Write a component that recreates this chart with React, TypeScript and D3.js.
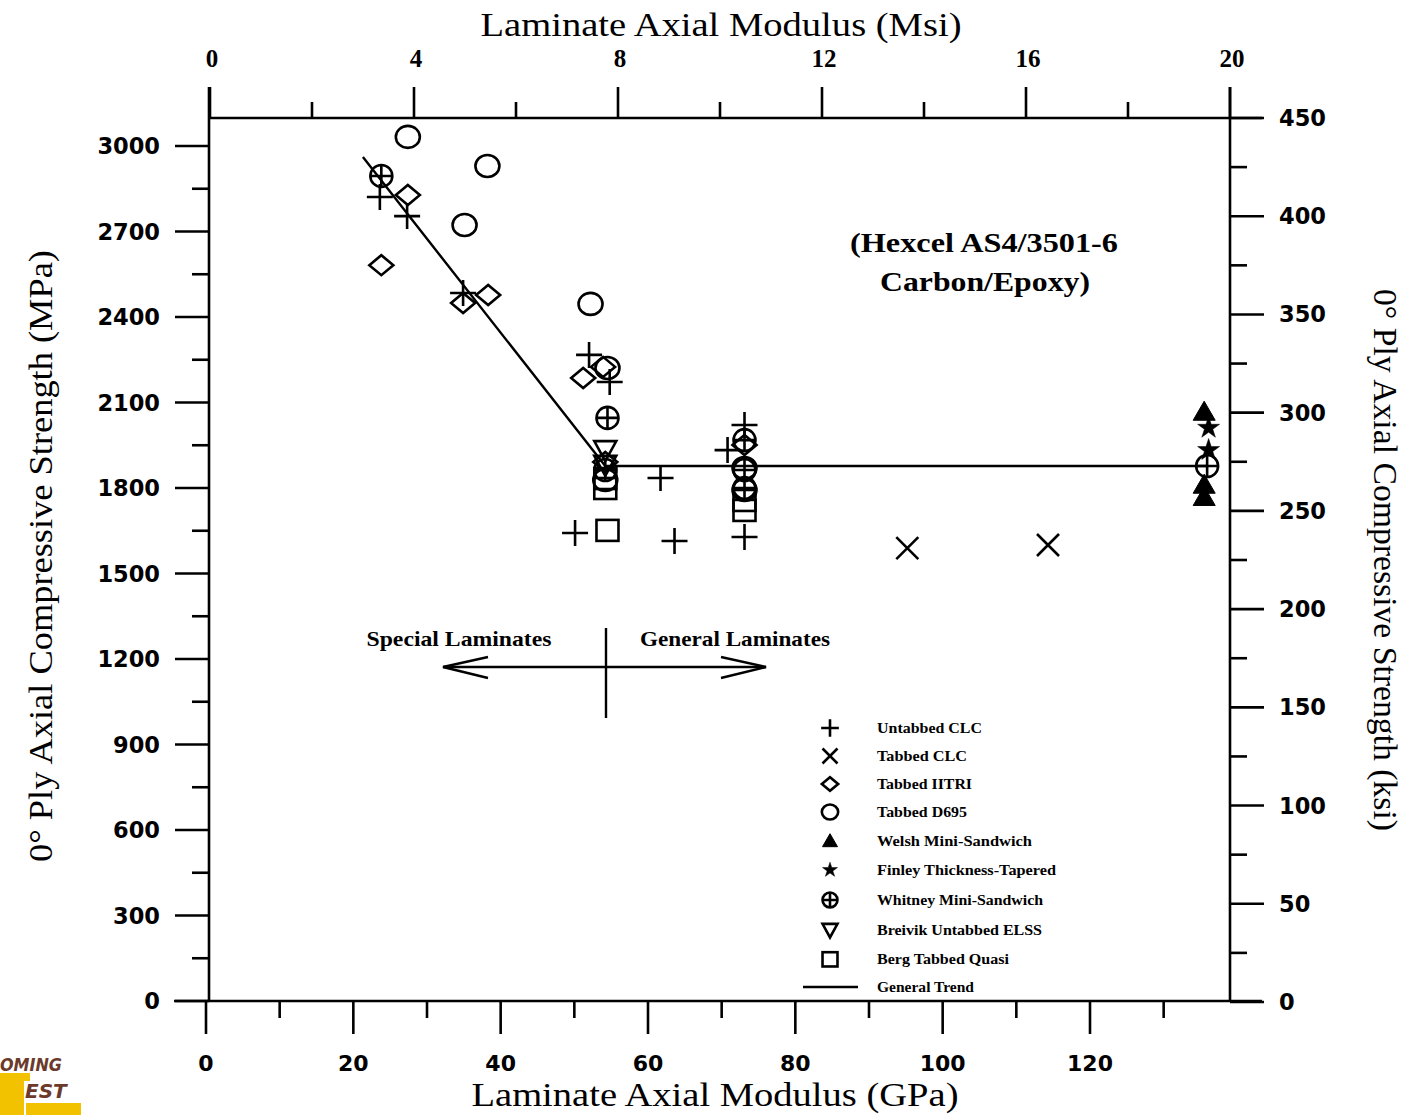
import React from 'react';
import * as d3 from 'd3';

const W = 1409, H = 1115;

// Tick values
const mpaTicks = [0, 300, 600, 900, 1200, 1500, 1800, 2100, 2400, 2700, 3000];
const mpaMinor = [150, 450, 750, 1050, 1350, 1650, 1950, 2250, 2550, 2850];
const ksiTicks = [0, 50, 100, 150, 200, 250, 300, 350, 400, 450];
const ksiMinor = [25, 75, 125, 175, 225, 275, 325, 375, 425];
const gpaTicks = [0, 20, 40, 60, 80, 100, 120];
const gpaMinor = [10, 30, 50, 70, 90, 110, 130];
const msiTicks = [0, 4, 8, 12, 16, 20];
const msiMinor = [2, 6, 10, 14, 18];

// Data: [modulus GPa, strength MPa]
const untabbedCLC: [number, number][] = [[23.6, 2821], [27.3, 2754], [34.9, 2484], [52.0, 2267], [54.8, 2172], [50.1, 1642], [61.7, 1835], [63.6, 1614], [73.1, 2021], [70.8, 1933], [73.1, 1628]];
const tabbedCLC: [number, number][] = [[95.2, 1589], [114.3, 1600]];
const tabbedIITRI: [number, number][] = [[23.8, 2582], [27.4, 2828], [34.9, 2449], [38.3, 2477], [51.2, 2186], [53.9, 2225], [54.2, 1891], [73.1, 1951]];
const tabbedD695: [number, number][] = [[27.4, 3032], [38.2, 2930], [35.1, 2723], [52.2, 2446], [54.5, 2221], [54.2, 1828], [73.1, 1870], [73.1, 1793]];
const welshMini: [number, number][] = [[135.5, 2067], [135.5, 1811], [135.5, 1768]];
const finleyTapered: [number, number][] = [[136.1, 2011], [136.1, 1933]];
const whitneyMini: [number, number][] = [[23.8, 2895], [54.5, 2046], [54.2, 1863], [73.1, 1968], [73.1, 1863], [73.1, 1800], [135.9, 1877]];
const breivikELSS: [number, number][] = [[54.2, 1933], [54.2, 1881]];
const bergQuasi: [number, number][] = [[54.5, 1653], [54.2, 1835], [54.2, 1800], [73.1, 1758], [73.1, 1723]];
const trendGPa = [21.3, 54.2, 136];
const trendMPa = [2961, 1877, 1877];

const legendLabels = ['Untabbed CLC', 'Tabbed CLC', 'Tabbed IITRI', 'Tabbed D695', 'Welsh Mini-Sandwich', 'Finley Thickness-Tapered', 'Whitney Mini-Sandwich', 'Breivik Untabbed ELSS', 'Berg Tabbed Quasi', 'General Trend'];

const x = d3.scaleLinear().domain([0, 120]).range([206, 1090]);
const xMsi = d3.scaleLinear().domain([0, 20]).range([210, 1230]);
const y = d3.scaleLinear().domain([0, 3000]).range([1001, 146]);
const yKsi = d3.scaleLinear().domain([0, 450]).range([1002, 118]);

const SW = 2.6;
const starPath = d3.symbol().type(d3.symbolStar).size(150)() as string;
const triPath = d3.symbol().type(d3.symbolTriangle).size(210)() as string;

function Marker({ kind, cx, cy, s = 1 }: { kind: string; cx: number; cy: number; s?: number }) {
  const t = `translate(${cx},${cy}) scale(${s})`;
  const common = { fill: 'none', stroke: '#000', strokeWidth: SW / s } as any;
  switch (kind) {
    case 'plus':
      return <path transform={t} d="M-13,0H13M0,-13V13" {...common} />;
    case 'cross':
      return <path transform={t} d="M-11,-11L11,11M-11,11L11,-11" {...common} />;
    case 'diamond':
      return <path transform={t} d="M-12,0L0,-10L12,0L0,10Z" {...common} />;
    case 'circle':
      return <ellipse transform={t} rx={12} ry={11} {...common} />;
    case 'tri':
      return <path transform={t + ' translate(0,2)'} d={triPath} fill="#000" stroke="#000" strokeWidth={1 / s} />;
    case 'star':
      return <path transform={t} d={starPath} fill="#000" stroke="#000" strokeWidth={0.5 / s} />;
    case 'oplus':
      return (
        <g transform={t}>
          <circle r={11} {...common} />
          <path d="M-11,0H11M0,-11V11" {...common} />
        </g>
      );
    case 'tridown':
      return <path transform={t} d="M-11,-9L11,-9L0,11Z" {...common} />;
    case 'square':
      return <rect transform={t} x={-11} y={-10} width={22} height={21} {...common} />;
    default:
      return null;
  }
}

const seriesList: { kind: string; data: [number, number][] }[] = [
  { kind: 'plus', data: untabbedCLC },
  { kind: 'cross', data: tabbedCLC },
  { kind: 'diamond', data: tabbedIITRI },
  { kind: 'circle', data: tabbedD695 },
  { kind: 'tri', data: welshMini },
  { kind: 'star', data: finleyTapered },
  { kind: 'oplus', data: whitneyMini },
  { kind: 'tridown', data: breivikELSS },
  { kind: 'square', data: bergQuasi },
];

export default function App() {
  const serif = 'Liberation Serif, Times New Roman, serif';
  const sans = 'DejaVu Sans, sans-serif';
  const trendLine = d3.line<number>().x((d) => x(d)).y((_, i) => y(trendMPa[i]))(trendGPa) as string;
  const legendY = [728, 756, 784, 812, 841, 870, 900, 930, 959, 987];
  const legendKinds = ['plus', 'cross', 'diamond', 'circle', 'tri', 'star', 'oplus', 'tridown', 'square'];
  const legendWidths = [105, 90, 95, 90, 155, 179, 166, 165, 132, 97];

  return (
    <svg width={W} height={H} style={{ position: 'absolute', left: 0, top: 0, background: '#fff' }}>
      <rect x={0} y={0} width={W} height={H} fill="#fff" />
      {/* Frame */}
      <g stroke="#000" strokeWidth={2.6} fill="none">
        <line x1={209} y1={118} x2={1262} y2={118} />
        <line x1={174} y1={1001} x2={1262} y2={1001} />
        <line x1={209} y1={87} x2={209} y2={1001} />
        <line x1={1230} y1={87} x2={1230} y2={1001} />
      </g>
      {/* Left MPa axis */}
      <g stroke="#000" strokeWidth={2.6}>
        {mpaTicks.map((v) => <line key={'lm' + v} x1={175} x2={209} y1={y(v)} y2={y(v)} />)}
        {mpaMinor.map((v) => <line key={'ln' + v} x1={192} x2={209} y1={y(v)} y2={y(v)} />)}
      </g>
      <g fontFamily={sans} fontWeight="bold" fontSize={22.5} textAnchor="end">
        {mpaTicks.map((v) => <text key={'lt' + v} x={160} y={y(v) + 8}>{v}</text>)}
      </g>
      {/* Right ksi axis */}
      <g stroke="#000" strokeWidth={2.6}>
        {ksiTicks.map((v) => <line key={'rm' + v} x1={1230} x2={1264} y1={yKsi(v)} y2={yKsi(v)} />)}
        {ksiMinor.map((v) => <line key={'rn' + v} x1={1230} x2={1247} y1={yKsi(v)} y2={yKsi(v)} />)}
      </g>
      <g fontFamily={sans} fontWeight="bold" fontSize={22.5} textAnchor="start">
        {ksiTicks.map((v) => <text key={'rt' + v} x={1279} y={yKsi(v) + 8}>{v}</text>)}
      </g>
      {/* Bottom GPa axis */}
      <g stroke="#000" strokeWidth={2.6}>
        {gpaTicks.map((v) => <line key={'bm' + v} x1={x(v)} x2={x(v)} y1={1001} y2={1034} />)}
        {gpaMinor.map((v) => <line key={'bn' + v} x1={x(v)} x2={x(v)} y1={1001} y2={1018} />)}
      </g>
      <g fontFamily={sans} fontWeight="bold" fontSize={22} textAnchor="middle">
        {gpaTicks.map((v) => <text key={'bt' + v} x={x(v)} y={1071}>{v}</text>)}
      </g>
      {/* Top Msi axis */}
      <g stroke="#000" strokeWidth={2.6}>
        {msiTicks.map((v) => <line key={'tm' + v} x1={xMsi(v)} x2={xMsi(v)} y1={87} y2={118} />)}
        {msiMinor.map((v) => <line key={'tn' + v} x1={xMsi(v)} x2={xMsi(v)} y1={102} y2={118} />)}
      </g>
      <g fontFamily={serif} fontWeight="bold" fontSize={25} textAnchor="middle">
        {msiTicks.map((v) => <text key={'tt' + v} x={xMsi(v) + 2} y={67}>{v}</text>)}
      </g>
      {/* Axis titles */}
      <text x={721} y={36} fontFamily={serif} fontSize={33} textAnchor="middle" textLength={481} lengthAdjust="spacingAndGlyphs">Laminate Axial Modulus (Msi)</text>
      <text x={715} y={1106} fontFamily={serif} fontSize={33} textAnchor="middle" textLength={487} lengthAdjust="spacingAndGlyphs">Laminate Axial Modulus (GPa)</text>
      <text transform="translate(52,556) rotate(-90)" fontFamily={serif} fontSize={33} textAnchor="middle" textLength={612} lengthAdjust="spacingAndGlyphs">0° Ply Axial Compressive Strength (MPa)</text>
      <text transform="translate(1374,560) rotate(90)" fontFamily={serif} fontSize={33} textAnchor="middle" textLength={542} lengthAdjust="spacingAndGlyphs">0° Ply Axial Compressive Strength (ksi)</text>

      {/* Annotation */}
      <g fontFamily={serif} fontWeight="bold" fontSize={27} textAnchor="middle">
        <text x={984} y={252} textLength={268} lengthAdjust="spacingAndGlyphs">(Hexcel AS4/3501-6</text>
        <text x={985} y={291} textLength={210} lengthAdjust="spacingAndGlyphs">Carbon/Epoxy)</text>
      </g>
      <g fontFamily={serif} fontWeight="bold" fontSize={21} textAnchor="middle">
        <text x={459} y={646} textLength={185} lengthAdjust="spacingAndGlyphs">Special Laminates</text>
        <text x={735} y={646} textLength={190} lengthAdjust="spacingAndGlyphs">General Laminates</text>
      </g>
      <g stroke="#000" strokeWidth={2.4} fill="none">
        <line x1={606} x2={606} y1={628} y2={718} />
        <line x1={443} x2={766} y1={667} y2={667} />
        <path d="M488,657L443,667L488,678" />
        <path d="M721,657L766,667L721,678" />
      </g>

      {/* Trend */}
      <path d={trendLine} fill="none" stroke="#000" strokeWidth={2.4} />

      {/* Markers */}
      {seriesList.map((s, si) =>
        s.data.map((d, i) => <Marker key={si + '-' + i} kind={s.kind} cx={x(d[0])} cy={y(d[1])} />)
      )}

      {/* Legend */}
      {legendKinds.map((k, i) => <Marker key={'lg' + i} kind={k} cx={830} cy={legendY[i]} s={0.68} />)}
      <line x1={803} x2={858} y1={legendY[9]} y2={legendY[9]} stroke="#000" strokeWidth={2.4} />
      <g fontFamily={serif} fontWeight="bold" fontSize={15}>
        {legendLabels.map((l, i) => <text key={'ll' + i} x={877} y={legendY[i] + 5} textLength={legendWidths[i]} lengthAdjust="spacingAndGlyphs">{l}</text>)}
      </g>

      {/* Partial logo */}
      <g>
        <rect x={0} y={1073} width={24} height={42} fill="#f2c200" />
        <rect x={0} y={1073} width={30} height={8} fill="#f2c200" />
        <rect x={26} y={1103} width={55} height={12} fill="#f2c200" />
        <text x={0} y={1071} fontFamily={sans} fontWeight="bold" fontStyle="italic" fontSize={17} fill="#6b3a2a" textLength={62} lengthAdjust="spacingAndGlyphs">OMING</text>
        <text x={25} y={1098} fontFamily={sans} fontWeight="bold" fontStyle="italic" fontSize={20} fill="#6b3a2a">EST</text>
      </g>
    </svg>
  );
}
